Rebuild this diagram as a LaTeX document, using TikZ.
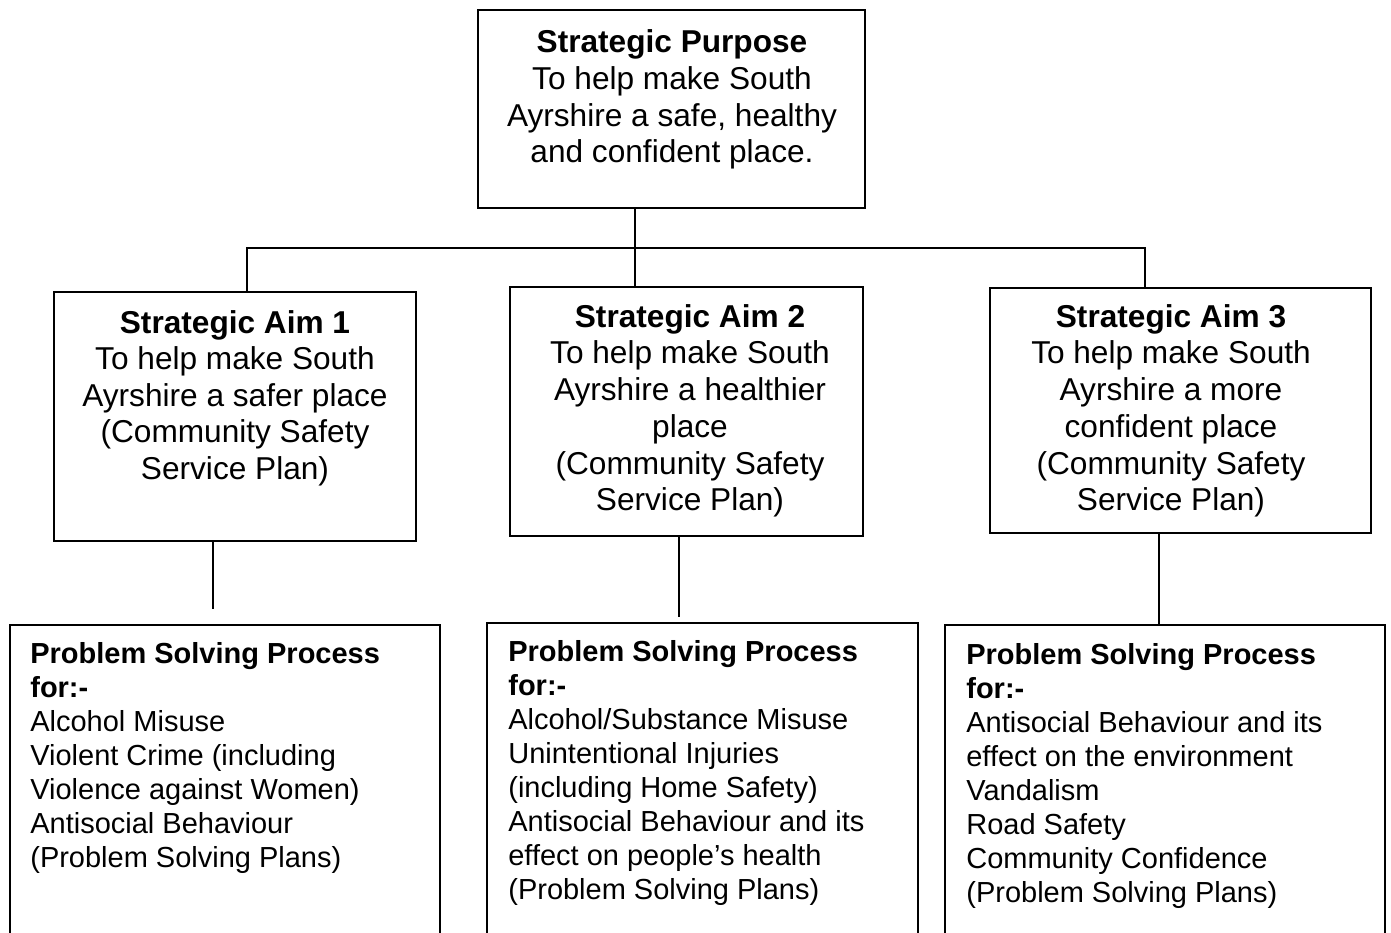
\documentclass[tikz,border=0pt]{standalone}
\usepackage{fontspec}
\setmainfont{Liberation Sans}
\usetikzlibrary{fit,calc}
\tikzset{
  boxshape/.style={draw, line width=1.1pt, inner sep=0pt, rectangle},
  conn/.style={line width=1.1pt},
  bigtext/.style={inner sep=0pt, align=center, anchor=north, font=\fontsize{18}{20.8}\selectfont},
  smalltext/.style={inner sep=0pt, align=left, anchor=north west, font=\fontsize{16.5}{19.3}\selectfont}
}
\begin{document}
\begin{tikzpicture}[x=0.02cm,y=-0.02cm]
\clip (0,0) rectangle (1391,932);
\fill[white] (0,0) rectangle (1391,932);
% boxes
\node[boxshape, fit={(478,10)(865,208)}] (tp) {};
\node[boxshape, fit={(54,292)(416,541)}] (a1) {};
\node[boxshape, fit={(510,287)(863,536)}] (a2) {};
\node[boxshape, fit={(990,288)(1371,533)}] (a3) {};
\node[boxshape, fit={(10,625)(440,960)}] (b1) {};
\node[boxshape, fit={(487,623)(918,960)}] (b2) {};
\node[boxshape, fit={(945,625)(1385,960)}] (b3) {};
% texts
\node[bigtext, font=\fontsize{18}{21}\selectfont] (tpt) at (672,29) {\textbf{Strategic Purpose}\\To help make South\\Ayrshire a safe, healthy\\and confident place.};
\node[bigtext] (a1t) at (235,310) {\textbf{Strategic Aim 1}\\To help make South\\Ayrshire a safer place\\(Community Safety\\Service Plan)};
\node[bigtext, font=\fontsize{18}{20.9}\selectfont] (a2t) at (690,304) {\textbf{Strategic Aim 2}\\To help make South\\Ayrshire a healthier\\place\\(Community Safety\\Service Plan)};
\node[bigtext, font=\fontsize{18}{20.9}\selectfont] (a3t) at (1171,304) {\textbf{Strategic Aim 3}\\To help make South\\Ayrshire a more\\confident place\\(Community Safety\\Service Plan)};
\node[smalltext] (b1t) at (30,642.5) {\textbf{Problem Solving Process}\\\textbf{for:-}\\Alcohol Misuse\\Violent Crime (including\\Violence against Women)\\Antisocial Behaviour\\(Problem Solving Plans)};
\node[smalltext] (b2t) at (508,640.5) {\textbf{Problem Solving Process}\\\textbf{for:-}\\Alcohol/Substance Misuse\\Unintentional Injuries\\(including Home Safety)\\Antisocial Behaviour and its\\effect on people’s health\\(Problem Solving Plans)};
\node[smalltext] (b3t) at (966,643.5) {\textbf{Problem Solving Process}\\\textbf{for:-}\\Antisocial Behaviour and its\\effect on the environment\\Vandalism\\Road Safety\\Community Confidence\\(Problem Solving Plans)};
% connectors
\coordinate (j) at (635,248);
\coordinate (j1) at (247,248);
\coordinate (j3) at (1145,248);
\draw[conn] (j |- tp.south) -- (j);
\draw[conn] (j1 |- a1.north) -- (j1) -- (j3) -- (j3 |- a3.north);
\draw[conn] (j) -- (j |- a2.north);
\coordinate (l1) at (213,609);
\coordinate (l2) at (679,617);
\coordinate (l3) at (1159,600);
\draw[conn] (l1 |- a1.south) -- (l1);
\draw[conn] (l2 |- a2.south) -- (l2);
\draw[conn] (l3 |- a3.south) -- (l3 |- b3.north);
\end{tikzpicture}
\end{document}
